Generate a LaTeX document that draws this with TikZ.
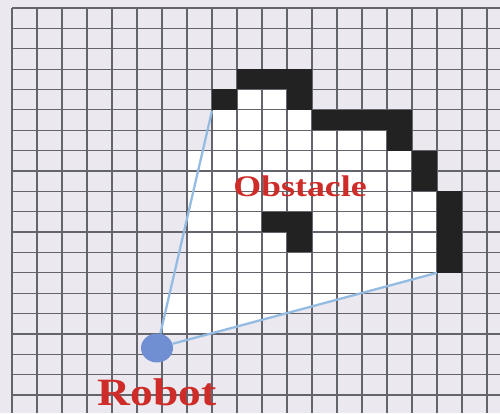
\documentclass[tikz,border=0pt]{standalone}
\usepackage{fontspec}
\setmainfont{Liberation Serif}
\usetikzlibrary{positioning,shapes.geometric}

\definecolor{paper}{RGB}{235,233,239}
\definecolor{gridline}{RGB}{100,100,108}
\definecolor{wall}{RGB}{34,34,34}
\definecolor{ray}{RGB}{148,188,226}
\definecolor{robotblue}{RGB}{112,142,210}
\definecolor{tagred}{RGB}{206,44,40}

\begin{document}
\begin{tikzpicture}[
    x=0.5cm, y={(0,-0.4074cm)},
    gridlines/.style = {draw=gridline, line width=0.7pt},
    wallcell/.style  = {fill=wall},
    freearea/.style  = {fill=white},
    rayline/.style   = {draw=ray, line width=1.3pt},
    robotdot/.style  = {ellipse, fill=robotblue, minimum width=6.4mm,
                        minimum height=5.8mm, inner sep=0pt},
    tag/.style       = {text=tagred, inner sep=0pt}
]

% --- Paper and frame --------------------------------------------------------
\fill[paper] (-0.48,-0.3927) rectangle (19.52,19.882);
\useasboundingbox (-0.48,-0.3927) rectangle (19.52,19.882);

% --- Area seen by the robot -------------------------------------------------
\fill[freearea] (6,16) -- (6,14) -- (7,14) -- (7,7) -- (8,7) -- (8,5)
  -- (9,5) -- (9,4) -- (11,4) -- (11,5) -- (12,5) -- (12,6) -- (15,6)
  -- (15,7) -- (16,7) -- (16,9) -- (17,9) -- (17,13) -- (8,16) -- cycle;

% --- Grid -------------------------------------------------------------------
\foreach \c in {0,...,19}
  \draw[gridlines] (\c,0) -- (\c,19.882);
\foreach \r in {0,...,19}
  \draw[gridlines] (0,\r) -- (19.52,\r);

% --- Obstacle cells ---------------------------------------------------------
\foreach \c/\r in {9/3,10/3,11/3,8/4,11/4,12/5,13/5,14/5,15/5,15/6,
                   16/7,16/8,17/9,17/10,17/11,17/12,10/10,11/10,11/11}
  \fill[wallcell] (\c,\r) rectangle ++(1,1);

% --- Robot and rays ---------------------------------------------------------
\coordinate (ltip) at (8,5.05);
\coordinate (rtip) at (17,13);
\node[robotdot] (robot) at (5.8,16.69) {};
\draw[rayline] (robot) -- (ltip);
\draw[rayline] (robot) -- (rtip);

% --- Labels -----------------------------------------------------------------
\node[tag, font=\bfseries\fontsize{17}{17}\selectfont] (obstlabel)
  at (11.52,8.74) {\scalebox{1.2}[1]{Obstacle}};
\node[tag, font=\bfseries\fontsize{22}{22}\selectfont, below=3mm of robot]
  (robotlabel) {\scalebox{1.18}[1]{Robot}};

\end{tikzpicture}
\end{document}
